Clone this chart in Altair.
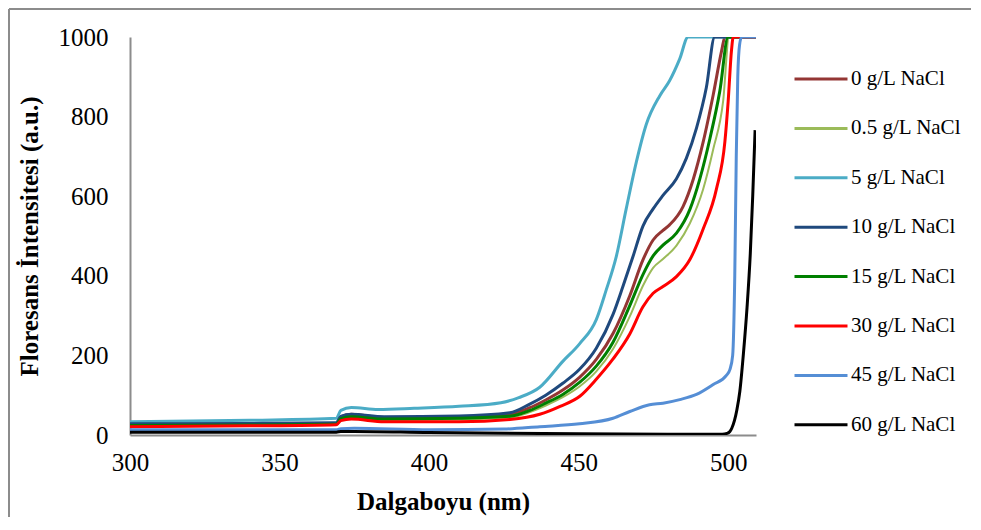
import altair as alt
import pandas as pd

series_names = ["0 g/L NaCl", "0.5 g/L NaCl", "5 g/L NaCl", "10 g/L NaCl",
                "15 g/L NaCl", "30 g/L NaCl", "45 g/L NaCl", "60 g/L NaCl"]
series_colors = ["#943634", "#9BBB59", "#4BACC6", "#1F497D",
                 "#008000", "#FF0000", "#558ED5", "#000000"]
series_widths = [3, 2, 3, 3, 3, 3, 3, 3]

# 0 g/L
wl_0 = [300, 340, 369, 370.5, 374, 385, 410, 427, 433.5, 439, 444.7, 450.3, 455.9, 461.5,
        467.1, 471.5, 474.9, 478.2, 480.4, 484.9, 488.3, 491.6, 495, 497.8, 498.9, 509.3]
fi_0 = [26, 27, 29, 46, 52, 44, 45, 52, 68, 88, 113, 145, 190, 255,
        350, 440, 490, 514, 528, 574, 642, 735, 855, 965, 1000, 1000]
# 0.5 g/L
wl_05 = [300, 340, 369, 370.5, 374, 385, 410, 427, 433.5, 439, 444.7, 450.3, 455.9, 461.5,
         467.1, 471.5, 474.9, 478.2, 482.7, 487.2, 491.6, 495, 498.3, 500.3, 509.3]
fi_05 = [24, 25, 26, 39, 44, 38, 39, 44, 57, 74, 95, 122, 160, 216,
         298, 375, 420, 442, 476, 532, 617, 718, 838, 1000, 1000]
# 5 g/L
wl_5 = [300, 340, 369, 370.5, 374, 383, 395, 410, 424, 430, 437, 444.7, 450.3, 455.9,
        459.2, 462.6, 465.9, 469.3, 472.6, 477.1, 480.4, 483.8, 486.6, 509.3]
fi_5 = [33, 37, 42, 62, 69, 64, 67, 72, 81, 94, 120, 185, 229, 290,
        364, 449, 568, 686, 780, 852, 890, 945, 1000, 1000]
# 10 g/L
wl_10 = [300, 340, 369, 370.5, 374, 385, 410, 427, 433.5, 439, 444.7, 450.3, 455.9, 461.5,
         464.8, 468.2, 471.5, 474.9, 478.2, 482.7, 486, 489.4, 492.7, 495.5, 509.3]
fi_10 = [28, 29, 31, 47, 52, 46, 48, 56, 77, 100, 130, 165, 218, 303,
         373, 449, 525, 568, 602, 644, 695, 771, 873, 1000, 1000]
# 15 g/L
wl_15 = [300, 340, 369, 370.5, 374, 385, 410, 427, 433.5, 439, 444.7, 450.3, 455.9, 461.5,
         467.1, 471.5, 474.9, 478.2, 482.7, 487.2, 490.5, 493.9, 497.2, 500, 509.3]
fi_15 = [24, 25, 27, 41, 46, 40, 42, 47, 61, 80, 102, 132, 173, 233,
         325, 403, 450, 477, 507, 567, 643, 745, 864, 1000, 1000]
# 30 g/L
wl_30 = [300, 340, 369, 370.5, 374, 385, 410, 427, 437, 443.8, 450.5, 455.9, 461.5, 467.1,
         471.5, 474.9, 478.2, 482.7, 487.2, 491.6, 496.1, 498.9, 500, 501.1, 501.7, 509.3]
fi_30 = [21, 23, 26, 36, 40, 33, 33, 39, 52, 72, 98, 140, 191, 254,
         322, 356, 373, 398, 441, 517, 619, 737, 839, 966, 1000, 1000]
# 45 g/L
wl_45 = [300, 369, 370.5, 375, 400, 425, 437, 450.3, 461.5, 467.1, 473.7, 478.2, 483.8,
         489.4, 495, 499.4, 500.6, 501.5, 502.2, 502.7, 503.2, 503.8, 504.5, 509.3]
fi_45 = [13, 13, 16, 17, 13, 15, 21, 28, 42, 59, 76, 80, 89,
         102, 127, 150, 165, 200, 400, 700, 900, 980, 1000, 1000]
# 60 g/L
wl_60 = [300, 369, 370.5, 375, 400, 450, 480, 498, 499.6, 500.5, 501.2, 502.9, 503.9,
         505.1, 506.3, 507.4, 508.2, 509]
fi_60 = [7, 7, 9, 9, 6, 3, 2, 2, 4, 8, 17, 63, 110, 205, 320, 457, 600, 766]

all_wl = [wl_0, wl_05, wl_5, wl_10, wl_15, wl_30, wl_45, wl_60]
all_fi = [fi_0, fi_05, fi_5, fi_10, fi_15, fi_30, fi_45, fi_60]

rows = []
for name, wl, fi in zip(series_names, all_wl, all_fi):
    for a, b in zip(wl, fi):
        rows.append({"series": name, "wl": a, "fi": b})
df = pd.DataFrame(rows)

FONT = "Liberation Serif"
x_ticks = [300, 350, 400, 450, 500]
y_ticks = [0, 200, 400, 600, 800, 1000]

color = alt.Color(
    "series:N",
    scale=alt.Scale(domain=series_names, range=series_colors),
    legend=alt.Legend(
        title=None, orient="none", legendX=676, legendY=27, padding=0,
        symbolType="M-2,0H2", symbolSize=702, symbolStrokeWidth=3,
        rowPadding=24.4, labelOffset=15, labelFont=FONT, labelFontSize=21,
        labelColor="#000000", labelBaseline="middle",
    ),
)

x_enc = alt.X(
    "wl:Q",
    scale=alt.Scale(domain=[300, 509.3], nice=False, zero=False),
    axis=alt.Axis(
        title="Dalgaboyu (nm)", values=x_ticks, grid=False, ticks=False,
        domainColor="#8C8C8C", domainWidth=2, labelFont=FONT, labelFontSize=25,
        labelColor="#000000", labelPadding=15, labelFlush=False, format="d",
        titleFont=FONT, titleFontSize=25, titleFontWeight="bold",
        titleColor="#000000", titleY=66, titleBaseline="middle",
    ),
)
y_enc = alt.Y(
    "fi:Q",
    scale=alt.Scale(domain=[0, 1000], nice=False),
    axis=alt.Axis(
        title="Floresans İntensitesi (a.u.)", values=y_ticks, grid=False, ticks=False,
        domainColor="#8C8C8C", domainWidth=2, labelFont=FONT, labelFontSize=25,
        labelColor="#000000", labelPadding=22, labelFlush=False, format="d",
        titleFont=FONT, titleFontSize=25, titleFontWeight="bold",
        titleColor="#000000", titleX=-101, titleBaseline="middle",
    ),
)

layers = []
for name, w in zip(series_names, series_widths):
    layers.append(
        alt.Chart(df)
        .transform_filter(alt.datum.series == name)
        .mark_line(strokeWidth=w, interpolate="monotone", clip=True)
        .encode(x=x_enc, y=y_enc, color=color)
    )

frame_data = pd.DataFrame({"a": [0]})
frame_left = (
    alt.Chart(frame_data)
    .mark_rule(stroke="#8C8C8C", strokeWidth=2, clip=False)
    .encode(x=alt.value(-121), y=alt.value(-28), y2=alt.value(480))
)
frame_top = (
    alt.Chart(frame_data)
    .mark_rule(stroke="#8C8C8C", strokeWidth=2, clip=False)
    .encode(x=alt.value(-121), x2=alt.value(845), y=alt.value(-28))
)

chart = (
    alt.layer(frame_left, frame_top, *layers)
    .properties(
        width=626, height=398,
        autosize=alt.AutoSizeParams(type="none"),
        padding={"left": 122, "top": 29, "right": 215, "bottom": 85},
    )
    .configure_view(stroke=None)
)

chart.save("out.html", embed_options={"renderer": "svg", "actions": False})
